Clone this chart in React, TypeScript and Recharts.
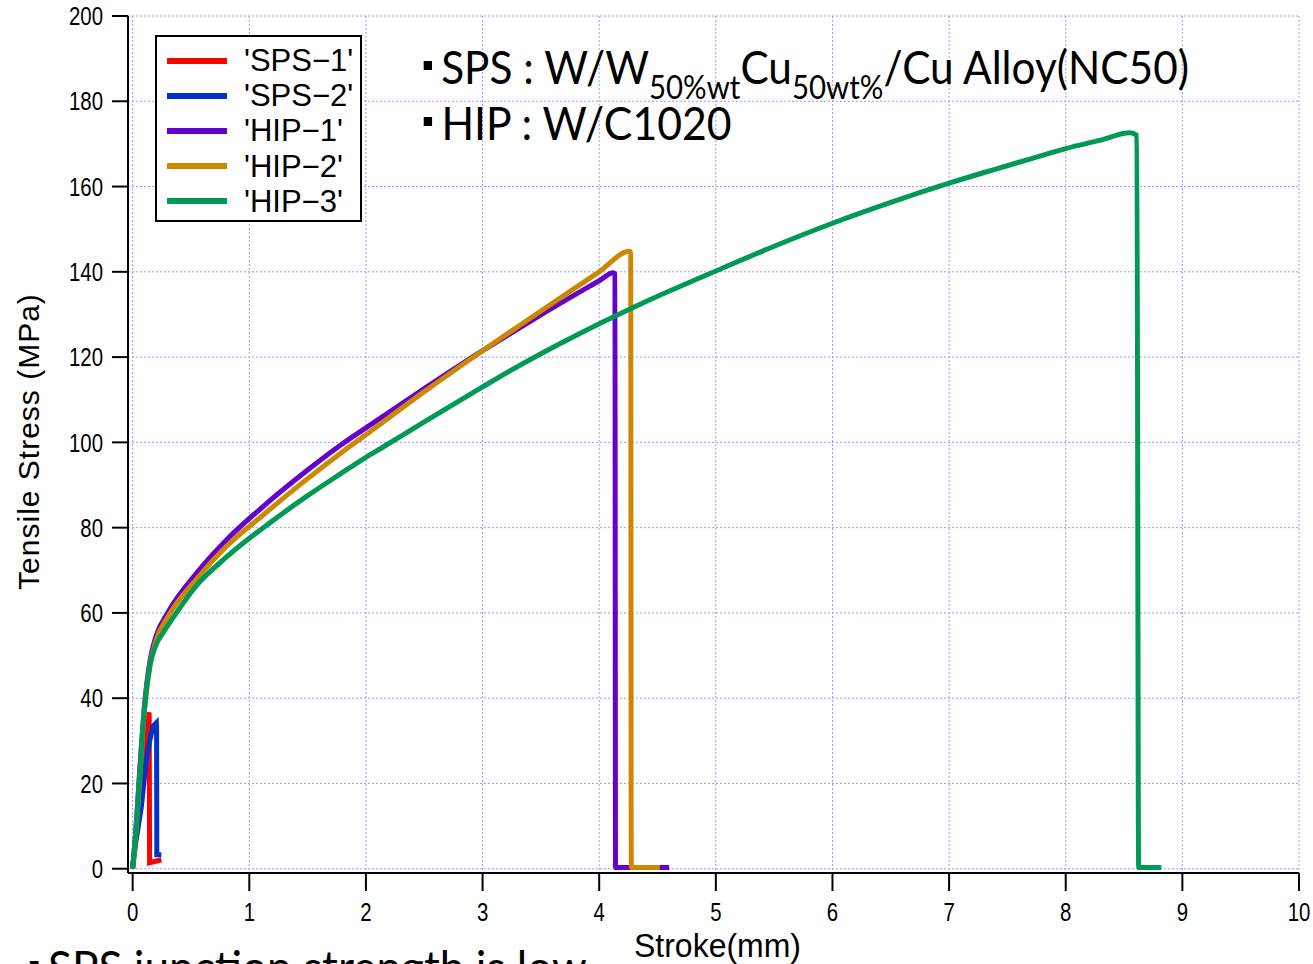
import { LineChart, Line, XAxis, YAxis, CartesianGrid } from 'recharts';

// stroke (mm) / tensile stress (MPa) per specimen
const sps1Stroke = [0, 0.03, 0.06, 0.088, 0.115, 0.13, 0.14, 0.142, 0.145, 0.246];
const sps1Stress = [0.5, 8, 15, 21.6, 29, 34, 36.7, 35.5, 1.4, 2.1];

const sps2Stroke = [0, 0.03, 0.075, 0.117, 0.146, 0.174, 0.203, 0.205, 0.207, 0.246];
const sps2Stress = [0.5, 6.8, 14.6, 25.5, 30, 33.4, 34.2, 33, 3.3, 3.3];

const hip1Stroke = [0, 0.03, 0.06, 0.1, 0.15, 0.2, 0.3, 0.55, 0.8, 1.12, 1.5, 1.775, 2, 2.5, 3, 3.23, 3.5, 4, 4.12, 4.135, 4.14, 4.6];
const hip1Stress = [0, 10, 23, 38, 49, 54.5, 60, 69.4, 77, 85, 93.5, 99.2, 103.4, 112.6, 121.5, 125.4, 129.9, 137.9, 139.8, 139.5, 0.3, 0.3];

const hip2Stroke = [0, 0.03, 0.06, 0.1, 0.15, 0.2, 0.3, 0.55, 0.8, 1.12, 1.5, 1.775, 2, 2.5, 3, 3.23, 3.5, 4, 4.26, 4.27, 4.275, 4.52];
const hip2Stress = [0, 9, 21, 37, 48, 53.5, 59, 68, 75.5, 83, 91.5, 97.3, 101.8, 111.9, 121.5, 125.8, 130.8, 140, 144.8, 144.3, 0.3, 0.3];

const hip3Stroke = [0, 0.03, 0.06, 0.1, 0.146, 0.2, 0.26, 0.35, 0.55, 0.8, 1, 1.17, 1.5, 1.775, 2, 2.14, 2.5, 3, 3.23, 3.5, 3.83, 4, 4.52, 4.78, 5, 5.5, 6, 6.5, 7, 7.35, 7.7, 8, 8.3, 8.55, 8.61, 8.625, 8.82];
const hip3Stress = [0, 10, 22, 37, 47.4, 52.5, 55.3, 59, 66.5, 73, 77.5, 81, 87.5, 92.5, 96.5, 98.8, 104.8, 113, 116.7, 120.8, 125.5, 127.8, 134.5, 137.6, 140.2, 146, 151.4, 156.3, 160.8, 163.7, 166.5, 168.9, 170.9, 172.6, 172, 0.3, 0.3];

const xTicks = [0, 1, 2, 3, 4, 5, 6, 7, 8, 9, 10];
const yTicks = [0, 20, 40, 60, 80, 100, 120, 140, 160, 180, 200];

const seriesNames = ["'SPS\u22121'", "'SPS\u22122'", "'HIP\u22121'", "'HIP\u22122'", "'HIP\u22123'"];
const seriesColors = ['#ff0000', '#0033cc', '#6600cc', '#cc8800', '#009955'];
const seriesCurve = ['linear', 'linear', 'monotoneX', 'monotoneX', 'monotoneX'];

const zip = (xs: number[], ys: number[]) => xs.map((x, i) => ({ x, y: ys[i] }));

const series = [
  zip(sps1Stroke, sps1Stress),
  zip(sps2Stroke, sps2Stress),
  zip(hip1Stroke, hip1Stress),
  zip(hip2Stroke, hip2Stress),
  zip(hip3Stroke, hip3Stress),
];

const axisFont = '"Liberation Sans", Arial, sans-serif';
const noteFont = 'Lato, "Open Sans", sans-serif';

const XTick = ({ x, y, payload }: any) => (
  <g transform={`translate(${x},${y})`}>
    <text transform="scale(0.85,1.08)" textAnchor="middle" dy="0.71em" fontFamily={axisFont} fontSize={24} fill="#000">
      {payload.value}
    </text>
  </g>
);

const YTick = ({ x, y, payload }: any) => (
  <g transform={`translate(${x},${y})`}>
    <text transform="scale(0.85,1.08)" textAnchor="end" dy="0.355em" fontFamily={axisFont} fontSize={24} fill="#000">
      {payload.value}
    </text>
  </g>
);

const Bullet = () => (
  <span style={{ display: 'inline-block', width: 9, height: 9, background: '#000', marginRight: 10, marginLeft: 4, verticalAlign: '0.3em' }} />
);

const subStyle = { display: 'inline-block', fontSize: 32, lineHeight: '20px', position: 'relative' as const, top: 15 };

const App = () => {
  return (
    <div style={{ position: 'absolute', left: 0, top: 0, width: 1313, height: 964, overflow: 'hidden', background: '#fff' }}>
      <LineChart width={1313} height={964} margin={{ top: 16, right: 14, bottom: 0, left: 0 }}>
        <CartesianGrid stroke="#9a9aff" strokeDasharray="2 2" strokeWidth={1} />
        <XAxis
          type="number"
          dataKey="x"
          domain={[-0.04, 10]}
          ticks={xTicks}
          height={91}
          tickSize={18}
          tickMargin={12}
          tick={<XTick />}
          axisLine={{ stroke: '#000', strokeWidth: 2 }}
          tickLine={{ stroke: '#000', strokeWidth: 2 }}
          allowDataOverflow
          label={({ viewBox }: any) => (
            <text
              transform={`translate(${viewBox.x + viewBox.width / 2 + 4},957) scale(1,1.05)`}
              textAnchor="middle"
              fontFamily={axisFont}
              fontSize={32}
              fill="#000"
            >
              Stroke(mm)
            </text>
          )}
        />
        <YAxis
          type="number"
          dataKey="y"
          domain={[-1, 200]}
          ticks={yTicks}
          width={128}
          tickSize={16}
          tickMargin={9}
          tick={<YTick />}
          axisLine={{ stroke: '#000', strokeWidth: 2 }}
          tickLine={{ stroke: '#000', strokeWidth: 2 }}
          allowDataOverflow
          label={({ viewBox }: any) => (
            <text
              x={39}
              y={viewBox.y + viewBox.height / 2 - 3}
              transform={`rotate(-90 39 ${viewBox.y + viewBox.height / 2 - 3})`}
              textAnchor="middle"
              fontFamily={axisFont}
              fontSize={30}
              letterSpacing={1}
              fill="#000"
            >
              Tensile Stress (MPa)
            </text>
          )}
        />
        {series.map((pts, i) => (
          <Line
            key={seriesNames[i]}
            data={pts}
            dataKey="y"
            name={seriesNames[i]}
            type={seriesCurve[i] as any}
            stroke={seriesColors[i]}
            strokeWidth={5}
            dot={false}
            activeDot={false}
            isAnimationActive={false}
          />
        ))}
      </LineChart>

      {/* legend box */}
      <div
        style={{
          position: 'absolute',
          left: 155,
          top: 35,
          width: 203,
          height: 183,
          border: '2px solid #000',
          background: '#fff',
        }}
      >
        {seriesNames.map((name, i) => (
          <div key={name} style={{ position: 'absolute', left: 10, top: 6 + i * 35.2, height: 35, display: 'flex', alignItems: 'center' }}>
            <div style={{ width: 60, height: 6, background: seriesColors[i] }} />
            <span style={{ marginLeft: 17, fontFamily: axisFont, fontSize: 31, lineHeight: '35px', color: '#000' }}>
              {name}
            </span>
          </div>
        ))}
      </div>

      {/* annotations */}
      <div style={{ position: 'absolute', left: 420, top: 44, height: 46, fontFamily: noteFont, fontSize: 46, lineHeight: '46px', color: '#000', whiteSpace: 'nowrap', transform: 'scaleX(0.92)', transformOrigin: 'left top' }}>
        <Bullet />
        {'SPS : W/W'}
        <span style={subStyle}>50%wt</span>
        Cu
        <span style={subStyle}>50wt%</span>
        /Cu Alloy(NC50)
      </div>
      <div style={{ position: 'absolute', left: 420, top: 100, height: 46, fontFamily: noteFont, fontSize: 46, lineHeight: '46px', color: '#000', whiteSpace: 'nowrap', transform: 'scaleX(0.93)', transformOrigin: 'left top' }}>
        <Bullet />
        {'HIP : W/C1020'}
      </div>
      <div style={{ position: 'absolute', left: 26, top: 938, height: 58, fontFamily: noteFont, fontSize: 46, lineHeight: '58px', color: '#000', whiteSpace: 'nowrap', transform: 'scaleX(0.96)', transformOrigin: 'left top' }}>
        <Bullet />
        {'SPS junction strength is low'}
      </div>
    </div>
  );
};

export default App;
